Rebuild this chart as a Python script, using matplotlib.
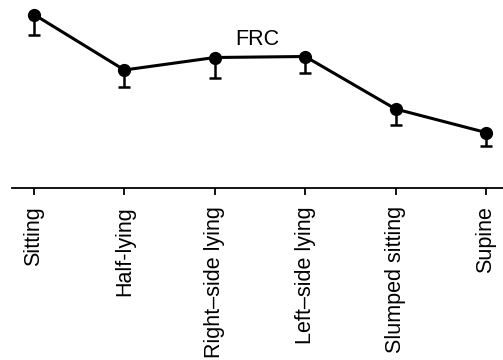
import matplotlib
matplotlib.use("Agg")
import matplotlib.pyplot as plt

# FRC by body position (mean with lower error bar)
positions = ["Sitting", "Half-lying", "Right\u2013side lying", "Left\u2013side lying",
             "Slumped sitting", "Supine"]
frc_mean = [3.47, 2.36, 2.61, 2.63, 1.58, 1.11]
frc_err = [0.41, 0.33, 0.41, 0.32, 0.31, 0.27]

plt.rcParams["font.family"] = ["Liberation Sans", "DejaVu Sans"]

fig = plt.figure(figsize=(5.03, 3.60), dpi=100)
ax = fig.add_axes([12 / 503, 172 / 360, 1 - 12 / 503, 188 / 360])

x = list(range(len(positions)))
ax.errorbar(x, frc_mean, yerr=[frc_err, [0] * len(frc_err)], fmt="-o",
            color="black", lw=2.2, ms=8.5, elinewidth=1.8, capsize=4,
            capthick=1.8, zorder=3)

ax.set_xlim(-0.243, 5.188)
ax.set_ylim(0, 3.76)

ax.text(2.47, 2.86, "FRC", ha="center", va="baseline", fontsize=15.5)

for s in ("left", "top", "right"):
    ax.spines[s].set_visible(False)
ax.spines["bottom"].set_linewidth(1.3)
ax.set_yticks([])
ax.set_xticks(x)
ax.set_xticklabels(positions, rotation=90, fontsize=15.5)
ax.tick_params(axis="x", direction="out", length=5, width=1.3, pad=8)

fig.savefig("out.png", dpi=100)
